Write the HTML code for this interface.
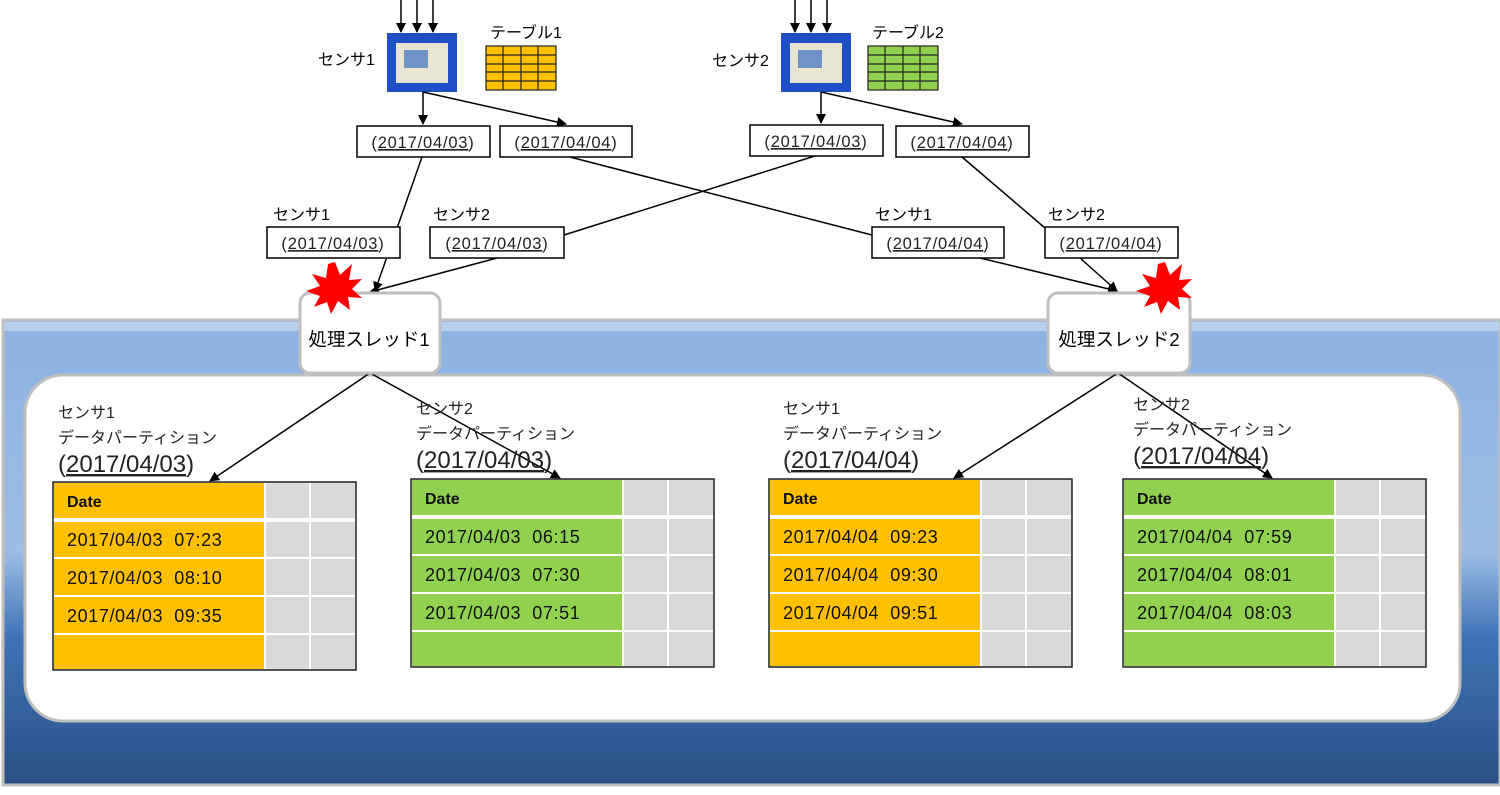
<!DOCTYPE html>
<html><head><meta charset="utf-8"><style>
body{margin:0;background:#fff}
svg{display:block;font-family:"Liberation Sans","Noto Sans CJK JP",sans-serif}
</style></head><body>
<svg width="1500" height="795" viewBox="0 0 1500 795" xmlns="http://www.w3.org/2000/svg">
<defs>
<linearGradient id="bg" x1="0" y1="0" x2="0" y2="1">
<stop offset="0" stop-color="#8db2e1"/><stop offset="0.5" stop-color="#9dbde6"/><stop offset="0.68" stop-color="#3e74b7"/><stop offset="1" stop-color="#2a4f86"/>
</linearGradient>
<marker id="a" markerWidth="10" markerHeight="10" refX="9" refY="5" orient="auto" markerUnits="userSpaceOnUse"><path d="M0,0 L10,5 L0,10 z" fill="#000"/></marker>
</defs>
<rect x="3" y="320" width="1497" height="465" fill="url(#bg)" stroke="#bfbfbf" stroke-width="3"/>
<rect x="4" y="322" width="1495" height="9" fill="#b8cfee"/>
<rect x="25" y="375" width="1435" height="346" rx="38" fill="#fff" stroke="#bfbfbf" stroke-width="3"/>

<g stroke="#000" stroke-width="1.5" marker-end="url(#a)">
<line x1="401" y1="0" x2="401" y2="32"/><line x1="417" y1="0" x2="417" y2="32"/><line x1="433" y1="0" x2="433" y2="32"/>
<line x1="795" y1="0" x2="795" y2="32"/><line x1="811" y1="0" x2="811" y2="32"/><line x1="827" y1="0" x2="827" y2="32"/>
</g>
<rect x="387" y="33" width="70" height="59" fill="#1f4fc4"/>
<rect x="396" y="43" width="52" height="40" fill="#e8e4d2"/><rect x="404" y="50" width="24" height="18" fill="#6f93c8"/>
<rect x="781" y="33" width="70" height="59" fill="#1f4fc4"/>
<rect x="790" y="43" width="52" height="40" fill="#e8e4d2"/><rect x="798" y="50" width="24" height="18" fill="#6f93c8"/>
<text x="318" y="65" font-size="16">センサ1</text>
<text x="712" y="66" font-size="16">センサ2</text>
<text x="490" y="38" font-size="16">テーブル1</text>
<text x="872" y="38" font-size="16">テーブル2</text>
<g stroke="#222" stroke-width="1.2">
<rect x="486" y="46" width="70" height="44" fill="#ffc000"/>
<line x1="503" y1="46" x2="503" y2="90"/><line x1="521" y1="46" x2="521" y2="90"/><line x1="538" y1="46" x2="538" y2="90"/>
<line x1="486" y1="55" x2="556" y2="55"/><line x1="486" y1="64" x2="556" y2="64"/><line x1="486" y1="72" x2="556" y2="72"/><line x1="486" y1="81" x2="556" y2="81"/>
<rect x="868" y="46" width="70" height="44" fill="#92d050"/>
<line x1="885" y1="46" x2="885" y2="90"/><line x1="903" y1="46" x2="903" y2="90"/><line x1="920" y1="46" x2="920" y2="90"/>
<line x1="868" y1="55" x2="938" y2="55"/><line x1="868" y1="64" x2="938" y2="64"/><line x1="868" y1="72" x2="938" y2="72"/><line x1="868" y1="81" x2="938" y2="81"/>
</g>

<g stroke="#000" stroke-width="1.5" fill="none">
<line x1="423" y1="92" x2="423" y2="124" marker-end="url(#a)"/>
<line x1="423" y1="92" x2="566" y2="124" marker-end="url(#a)"/>
<line x1="821" y1="92" x2="821" y2="123" marker-end="url(#a)"/>
<line x1="821" y1="92" x2="962" y2="124" marker-end="url(#a)"/>
<line x1="422" y1="157" x2="375" y2="291" marker-end="url(#a)"/>
<line x1="497" y1="258" x2="370" y2="292" marker-end="url(#a)"/>
<line x1="818" y1="155" x2="564" y2="235"/>
<line x1="570" y1="157" x2="872" y2="235"/>
<line x1="962" y1="157" x2="1045" y2="228"/>
<line x1="980" y1="258" x2="1117" y2="291" marker-end="url(#a)"/>
<line x1="1080" y1="258" x2="1117" y2="291" marker-end="url(#a)"/>
<line x1="370" y1="373" x2="210" y2="481" marker-end="url(#a)"/>
<line x1="370" y1="373" x2="560" y2="478" marker-end="url(#a)"/>
<line x1="1118" y1="373" x2="954" y2="478" marker-end="url(#a)"/>
<line x1="1118" y1="373" x2="1272" y2="478" marker-end="url(#a)"/>
</g>

<g font-size="16.5" text-anchor="middle" letter-spacing="0.8">
<g stroke="#000" stroke-width="1.5" fill="#fff">
<rect x="357" y="126" width="133" height="31"/><rect x="500" y="126" width="132" height="31"/>
<rect x="750" y="125" width="133" height="31"/><rect x="896" y="126" width="133" height="31"/>
<rect x="267" y="227" width="133" height="31"/><rect x="430" y="227" width="134" height="31"/>
<rect x="872" y="227" width="132" height="31"/><rect x="1045" y="227" width="133" height="31"/>
</g>
<g fill="#222">
<text x="423" y="148">(<tspan text-decoration="underline">2017/04/03</tspan>)</text>
<text x="566" y="148">(<tspan text-decoration="underline">2017/04/04</tspan>)</text>
<text x="816" y="147">(<tspan text-decoration="underline">2017/04/03</tspan>)</text>
<text x="962" y="148">(<tspan text-decoration="underline">2017/04/04</tspan>)</text>
<text x="333" y="249">(<tspan text-decoration="underline">2017/04/03</tspan>)</text>
<text x="497" y="249">(<tspan text-decoration="underline">2017/04/03</tspan>)</text>
<text x="938" y="249">(<tspan text-decoration="underline">2017/04/04</tspan>)</text>
<text x="1111" y="249">(<tspan text-decoration="underline">2017/04/04</tspan>)</text>
</g>
</g>
<g font-size="16">
<text x="273" y="220">センサ1</text><text x="433" y="220">センサ2</text>
<text x="875" y="220">センサ1</text><text x="1048" y="220">センサ2</text>
</g>

<rect x="300" y="293" width="140" height="80" rx="10" fill="#fff" stroke="#bfbfbf" stroke-width="3"/>
<rect x="1048" y="293" width="142" height="80" rx="10" fill="#fff" stroke="#bfbfbf" stroke-width="3"/>
<text x="369" y="346" font-size="18.5" text-anchor="middle">処理スレッド1</text>
<text x="1119" y="346" font-size="18.5" text-anchor="middle">処理スレッド2</text>
<polygon fill="#f00" points="335,262 340,275 352,264 349,280 362,279 352,289 362,298 348,297 350,310 338,301 331,314 327,302 314,307 320,296 306,291 320,286 312,274 326,278 328,264"/>
<polygon fill="#f00" transform="translate(830,0)" points="335,262 340,275 352,264 349,280 362,279 352,289 362,298 348,297 350,310 338,301 331,314 327,302 314,307 320,296 306,291 320,286 312,274 326,278 328,264"/>

<g font-size="16" fill="#222">
<text x="58" y="418">センサ1</text><text x="58" y="443">データパーティション</text>
<text x="58" y="472" font-size="24">(<tspan text-decoration="underline">2017/04/03</tspan>)</text>
<text x="416" y="414">センサ2</text><text x="416" y="439">データパーティション</text>
<text x="416" y="468" font-size="24">(<tspan text-decoration="underline">2017/04/03</tspan>)</text>
<text x="783" y="414">センサ1</text><text x="783" y="439">データパーティション</text>
<text x="783" y="468" font-size="24">(<tspan text-decoration="underline">2017/04/04</tspan>)</text>
<text x="1133" y="410">センサ2</text><text x="1133" y="435">データパーティション</text>
<text x="1133" y="464" font-size="24">(<tspan text-decoration="underline">2017/04/04</tspan>)</text>
</g>

<g transform="translate(53,482)">
<rect width="303" height="188" fill="#d9d9d9" stroke="#222" stroke-width="1.5"/>
<rect x="1" y="1" width="211" height="186" fill="#ffc000"/>
<g stroke="#fff" stroke-width="2"><line x1="212" y1="1" x2="212" y2="187"/><line x1="257" y1="1" x2="257" y2="187"/>
<line x1="1" y1="38" x2="302" y2="38" stroke-width="4"/><line x1="1" y1="76" x2="302" y2="76"/><line x1="1" y1="114" x2="302" y2="114"/><line x1="1" y1="152" x2="302" y2="152"/></g>
<g font-size="18" fill="#111" letter-spacing="0.6"><text x="14" y="25" font-weight="bold" font-size="16" letter-spacing="0">Date</text>
<text x="14" y="64">2017/04/03&#160;&#160;07:23</text><text x="14" y="102">2017/04/03&#160;&#160;08:10</text><text x="14" y="140">2017/04/03&#160;&#160;09:35</text></g>
</g>
<g transform="translate(411,479)">
<rect width="303" height="188" fill="#d9d9d9" stroke="#222" stroke-width="1.5"/>
<rect x="1" y="1" width="211" height="186" fill="#92d050"/>
<g stroke="#fff" stroke-width="2"><line x1="212" y1="1" x2="212" y2="187"/><line x1="257" y1="1" x2="257" y2="187"/>
<line x1="1" y1="38" x2="302" y2="38" stroke-width="4"/><line x1="1" y1="76" x2="302" y2="76"/><line x1="1" y1="114" x2="302" y2="114"/><line x1="1" y1="152" x2="302" y2="152"/></g>
<g font-size="18" fill="#111" letter-spacing="0.6"><text x="14" y="25" font-weight="bold" font-size="16" letter-spacing="0">Date</text>
<text x="14" y="64">2017/04/03&#160;&#160;06:15</text><text x="14" y="102">2017/04/03&#160;&#160;07:30</text><text x="14" y="140">2017/04/03&#160;&#160;07:51</text></g>
</g>
<g transform="translate(769,479)">
<rect width="303" height="188" fill="#d9d9d9" stroke="#222" stroke-width="1.5"/>
<rect x="1" y="1" width="211" height="186" fill="#ffc000"/>
<g stroke="#fff" stroke-width="2"><line x1="212" y1="1" x2="212" y2="187"/><line x1="257" y1="1" x2="257" y2="187"/>
<line x1="1" y1="38" x2="302" y2="38" stroke-width="4"/><line x1="1" y1="76" x2="302" y2="76"/><line x1="1" y1="114" x2="302" y2="114"/><line x1="1" y1="152" x2="302" y2="152"/></g>
<g font-size="18" fill="#111" letter-spacing="0.6"><text x="14" y="25" font-weight="bold" font-size="16" letter-spacing="0">Date</text>
<text x="14" y="64">2017/04/04&#160;&#160;09:23</text><text x="14" y="102">2017/04/04&#160;&#160;09:30</text><text x="14" y="140">2017/04/04&#160;&#160;09:51</text></g>
</g>
<g transform="translate(1123,479)">
<rect width="303" height="188" fill="#d9d9d9" stroke="#222" stroke-width="1.5"/>
<rect x="1" y="1" width="211" height="186" fill="#92d050"/>
<g stroke="#fff" stroke-width="2"><line x1="212" y1="1" x2="212" y2="187"/><line x1="257" y1="1" x2="257" y2="187"/>
<line x1="1" y1="38" x2="302" y2="38" stroke-width="4"/><line x1="1" y1="76" x2="302" y2="76"/><line x1="1" y1="114" x2="302" y2="114"/><line x1="1" y1="152" x2="302" y2="152"/></g>
<g font-size="18" fill="#111" letter-spacing="0.6"><text x="14" y="25" font-weight="bold" font-size="16" letter-spacing="0">Date</text>
<text x="14" y="64">2017/04/04&#160;&#160;07:59</text><text x="14" y="102">2017/04/04&#160;&#160;08:01</text><text x="14" y="140">2017/04/04&#160;&#160;08:03</text></g>
</g>
</svg>
</body></html>
